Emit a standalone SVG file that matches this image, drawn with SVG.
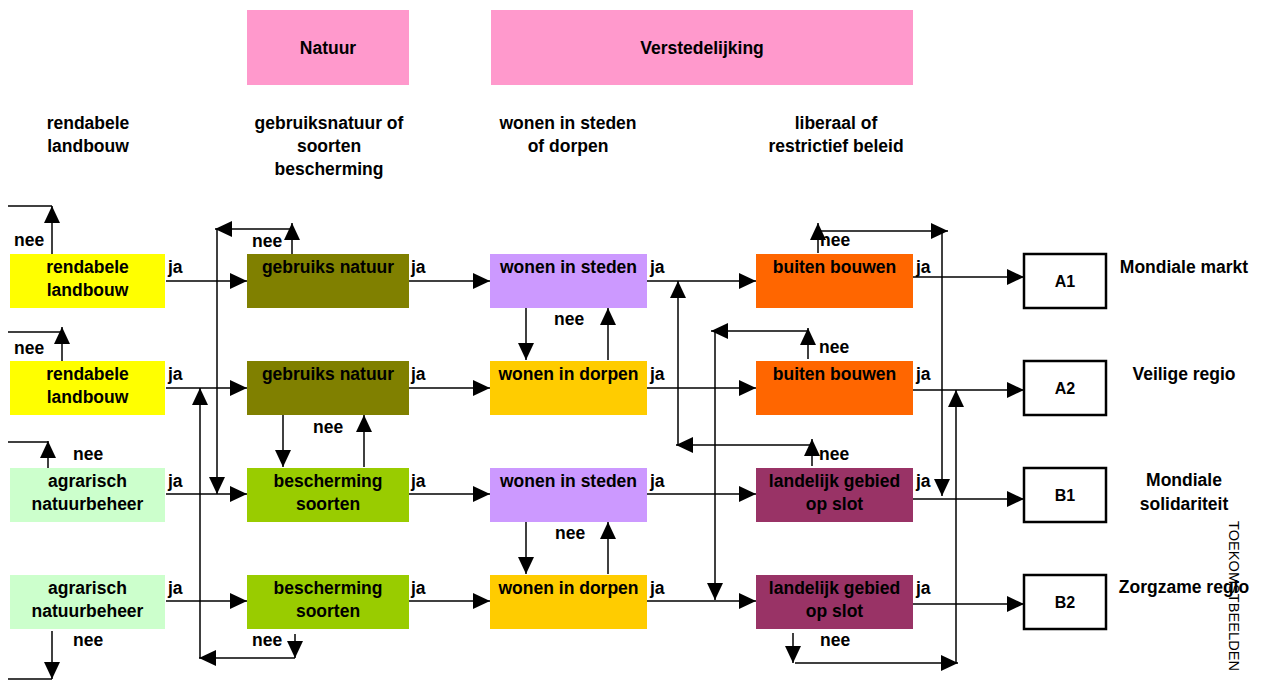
<svg xmlns="http://www.w3.org/2000/svg" width="1269" height="682" viewBox="0 0 1269 682">
<style>
text{font-family:"Liberation Sans",Arial,sans-serif;font-weight:bold;font-size:17.5px;fill:#000}
.c{text-anchor:middle}
.r{font-weight:normal;font-size:15.5px}
.ln{stroke:#000;stroke-width:1.5;fill:none}
.a{marker-end:url(#ah)}
.res{fill:#fff;stroke:#000;stroke-width:2.5}
</style>
<defs>
<marker id="ah" markerUnits="userSpaceOnUse" markerWidth="17" markerHeight="16" refX="17" refY="8" orient="auto" viewBox="0 0 17 16">
<path d="M0,0 L17,8 L0,16 z" fill="#000"/>
</marker>
</defs>
<rect width="1269" height="682" fill="#fff"/>

<g id="header-natuur"><rect x="247" y="10" width="162" height="75" fill="#FF99CC"/><text class="c" x="328" y="54">Natuur</text></g>
<g id="header-verstedelijking"><rect x="491" y="10" width="422" height="75" fill="#FF99CC"/><text class="c" x="702" y="54">Verstedelijking</text></g>

<g id="col-headers">
<text class="c" x="88" y="129">rendabele</text><text class="c" x="88" y="152">landbouw</text>
<text class="c" x="329" y="129">gebruiksnatuur of</text><text class="c" x="329" y="152">soorten</text><text class="c" x="329" y="175">bescherming</text>
<text class="c" x="568" y="129">wonen in steden</text><text class="c" x="568" y="152">of dorpen</text>
<text class="c" x="836" y="129">liberaal of</text><text class="c" x="836" y="152">restrictief beleid</text>
</g>

<g id="connectors">
<!-- col1 -> col2 -->
<line class="ln a" x1="166" y1="281" x2="247" y2="281"/>
<line class="ln a" x1="166" y1="388" x2="247" y2="388"/>
<line class="ln a" x1="166" y1="494" x2="247" y2="494"/>
<line class="ln a" x1="166" y1="601" x2="247" y2="601"/>
<!-- col2 -> col3 -->
<line class="ln a" x1="409" y1="281" x2="490" y2="281"/>
<line class="ln a" x1="409" y1="388" x2="490" y2="388"/>
<line class="ln a" x1="409" y1="494" x2="490" y2="494"/>
<line class="ln a" x1="409" y1="601" x2="490" y2="601"/>
<!-- col3 -> col4 -->
<line class="ln a" x1="647" y1="281" x2="756" y2="281"/>
<line class="ln a" x1="647" y1="388" x2="756" y2="388"/>
<line class="ln a" x1="647" y1="494" x2="756" y2="494"/>
<line class="ln a" x1="647" y1="601" x2="756" y2="601"/>
<!-- col4 -> results -->
<line class="ln a" x1="913" y1="277" x2="1024" y2="277"/>
<line class="ln a" x1="913" y1="390" x2="1024" y2="390"/>
<line class="ln a" x1="913" y1="499" x2="1024" y2="499"/>
<line class="ln a" x1="913" y1="604" x2="1024" y2="604"/>

<!-- col1 nee -->
<line class="ln a" x1="52" y1="254" x2="52" y2="206"/>
<line class="ln" x1="8" y1="206" x2="52" y2="206"/>
<line class="ln a" x1="62" y1="361" x2="62" y2="327"/>
<line class="ln" x1="8" y1="332" x2="62" y2="332"/>
<line class="ln a" x1="48" y1="468" x2="48" y2="441"/>
<line class="ln" x1="8" y1="442" x2="48" y2="442"/>
<line class="ln a" x1="52" y1="631" x2="52" y2="679"/>
<line class="ln" x1="8" y1="679" x2="52" y2="679"/>

<!-- col2 nee loops -->
<line class="ln a" x1="292" y1="254" x2="292" y2="223"/>
<line class="ln a" x1="292" y1="229" x2="215" y2="229"/>
<line class="ln a" x1="217" y1="229" x2="217" y2="494"/>
<line class="ln a" x1="283" y1="415" x2="283" y2="467"/>
<line class="ln a" x1="364" y1="467" x2="364" y2="415"/>
<line class="ln a" x1="295" y1="634" x2="295" y2="658"/>
<line class="ln a" x1="295" y1="658" x2="199" y2="658"/>
<line class="ln a" x1="200" y1="658" x2="200" y2="388"/>

<!-- col3 nee loops -->
<line class="ln a" x1="526" y1="308" x2="526" y2="360"/>
<line class="ln a" x1="608" y1="360" x2="608" y2="308"/>
<line class="ln a" x1="526" y1="522" x2="526" y2="574"/>
<line class="ln a" x1="608" y1="574" x2="608" y2="522"/>

<!-- col4 nee loops -->
<line class="ln a" x1="818" y1="253" x2="818" y2="223"/>
<line class="ln a" x1="818" y1="231" x2="948" y2="231"/>
<line class="ln a" x1="942" y1="231" x2="942" y2="496"/>
<line class="ln a" x1="808" y1="359" x2="808" y2="328"/>
<line class="ln a" x1="808" y1="331" x2="711" y2="331"/>
<line class="ln a" x1="715" y1="331" x2="715" y2="600"/>
<line class="ln a" x1="812" y1="466" x2="812" y2="439"/>
<line class="ln a" x1="812" y1="445" x2="676" y2="445"/>
<line class="ln a" x1="678" y1="445" x2="678" y2="281"/>
<line class="ln a" x1="793" y1="633" x2="793" y2="663"/>
<line class="ln a" x1="795" y1="663" x2="958" y2="663"/>
<line class="ln a" x1="956" y1="663" x2="956" y2="390"/>
</g>

<g id="edge-labels">
<text x="14" y="246">nee</text><text x="14" y="354">nee</text><text x="73" y="460">nee</text><text x="73" y="646">nee</text>
<text x="252" y="247">nee</text><text x="313" y="433">nee</text><text x="252" y="646">nee</text>
<text x="554" y="325">nee</text><text x="555" y="539">nee</text>
<text x="820" y="246">nee</text><text x="819" y="353">nee</text><text x="819" y="460">nee</text><text x="820" y="646">nee</text>
<text x="168" y="273">ja</text><text x="168" y="380">ja</text><text x="168" y="487">ja</text><text x="168" y="594">ja</text>
<text x="411" y="273">ja</text><text x="411" y="380">ja</text><text x="411" y="487">ja</text><text x="411" y="594">ja</text>
<text x="650" y="273">ja</text><text x="650" y="380">ja</text><text x="650" y="487">ja</text><text x="650" y="594">ja</text>
<text x="916" y="273">ja</text><text x="916" y="380">ja</text><text x="916" y="487">ja</text><text x="916" y="594">ja</text>
</g>

<!-- row 1 -->
<g id="n-r1c1"><rect x="10" y="254" width="155" height="54" fill="#FFFF00"/><text class="c" x="87.5" y="273">rendabele</text><text class="c" x="87.5" y="296">landbouw</text></g>
<g id="n-r1c2"><rect x="247" y="254" width="162" height="54" fill="#808000"/><text class="c" x="328" y="273">gebruiks natuur</text></g>
<g id="n-r1c3"><rect x="490" y="254" width="157" height="54" fill="#CC99FF"/><text class="c" x="568.5" y="273">wonen in steden</text></g>
<g id="n-r1c4"><rect x="756" y="254" width="157" height="54" fill="#FF6600"/><text class="c" x="834.5" y="273">buiten bouwen</text></g>
<g id="n-A1"><rect class="res" x="1024" y="254" width="82" height="54"/><text class="c" x="1065" y="287" style="font-size:16px">A1</text></g>
<!-- row 2 -->
<g id="n-r2c1"><rect x="10" y="361" width="155" height="54" fill="#FFFF00"/><text class="c" x="87.5" y="380">rendabele</text><text class="c" x="87.5" y="403">landbouw</text></g>
<g id="n-r2c2"><rect x="247" y="361" width="162" height="54" fill="#808000"/><text class="c" x="328" y="380">gebruiks natuur</text></g>
<g id="n-r2c3"><rect x="490" y="361" width="157" height="54" fill="#FFCC00"/><text class="c" x="568.5" y="380">wonen in dorpen</text></g>
<g id="n-r2c4"><rect x="756" y="361" width="157" height="54" fill="#FF6600"/><text class="c" x="834.5" y="380">buiten bouwen</text></g>
<g id="n-A2"><rect class="res" x="1024" y="361" width="82" height="54"/><text class="c" x="1065" y="394" style="font-size:16px">A2</text></g>
<!-- row 3 -->
<g id="n-r3c1"><rect x="10" y="468" width="155" height="54" fill="#CCFFCC"/><text class="c" x="87.5" y="487">agrarisch</text><text class="c" x="87.5" y="510">natuurbeheer</text></g>
<g id="n-r3c2"><rect x="247" y="468" width="162" height="54" fill="#99CC00"/><text class="c" x="328" y="487">bescherming</text><text class="c" x="328" y="510">soorten</text></g>
<g id="n-r3c3"><rect x="490" y="468" width="157" height="54" fill="#CC99FF"/><text class="c" x="568.5" y="487">wonen in steden</text></g>
<g id="n-r3c4"><rect x="756" y="468" width="157" height="54" fill="#993366"/><text class="c" x="834.5" y="487">landelijk gebied</text><text class="c" x="834.5" y="510">op slot</text></g>
<g id="n-B1"><rect class="res" x="1024" y="468" width="82" height="54"/><text class="c" x="1065" y="501" style="font-size:16px">B1</text></g>
<!-- row 4 -->
<g id="n-r4c1"><rect x="10" y="575" width="155" height="54" fill="#CCFFCC"/><text class="c" x="87.5" y="594">agrarisch</text><text class="c" x="87.5" y="617">natuurbeheer</text></g>
<g id="n-r4c2"><rect x="247" y="575" width="162" height="54" fill="#99CC00"/><text class="c" x="328" y="594">bescherming</text><text class="c" x="328" y="617">soorten</text></g>
<g id="n-r4c3"><rect x="490" y="575" width="157" height="54" fill="#FFCC00"/><text class="c" x="568.5" y="594">wonen in dorpen</text></g>
<g id="n-r4c4"><rect x="756" y="575" width="157" height="54" fill="#993366"/><text class="c" x="834.5" y="594">landelijk gebied</text><text class="c" x="834.5" y="617">op slot</text></g>
<g id="n-B2"><rect class="res" x="1024" y="575" width="82" height="54"/><text class="c" x="1065" y="608" style="font-size:16px">B2</text></g>

<g id="result-labels">
<text class="c" x="1184" y="273">Mondiale markt</text>
<text class="c" x="1184" y="380">Veilige regio</text>
<text class="c" x="1184" y="486">Mondiale</text><text class="c" x="1184" y="510">solidariteit</text>
<text class="c" x="1184" y="593">Zorgzame regio</text>
</g>
<text class="r" x="1229" y="521" transform="rotate(90 1229 521)" textLength="150" lengthAdjust="spacingAndGlyphs">TOEKOMSTBEELDEN</text>
</svg>
